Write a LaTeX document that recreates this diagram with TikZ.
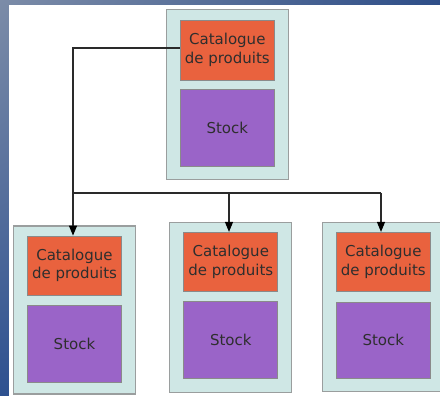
\documentclass[tikz,border=0pt]{standalone}
\usepackage{fontspec}
\setmainfont{DejaVu Sans}
\usetikzlibrary{arrows.meta,shadings}

\definecolor{bgtl}{HTML}{7C8CA8}
\definecolor{bgtr}{HTML}{2E4E88}
\definecolor{bgbl}{HTML}{2E5190}
\definecolor{bgbr}{HTML}{2A4A86}
\definecolor{shellfill}{HTML}{CFE7E5}
\definecolor{shelldraw}{HTML}{9A9E9E}
\definecolor{catfill}{HTML}{E9623E}
\definecolor{stockfill}{HTML}{9A64C8}
\definecolor{innerdraw}{HTML}{8A8A8A}
\definecolor{inktext}{HTML}{2E2E2E}
\definecolor{wire}{HTML}{2A2A2A}

\tikzset{
  shell/.style={draw=shelldraw, line width=1.2pt, fill=shellfill,
    minimum width=122pt, minimum height=170pt, inner sep=0pt},
  catbox/.style={draw=innerdraw, line width=0.8pt, fill=catfill,
    minimum width=94pt, minimum height=60pt, inner sep=0pt,
    align=center, text=inktext,
    font=\fontsize{15pt}{18.3pt}\selectfont},
  stockbox/.style={draw=innerdraw, line width=0.8pt, fill=stockfill,
    minimum width=94pt, minimum height=77pt, inner sep=0pt,
    text=inktext, font=\fontsize{15pt}{18pt}\selectfont},
  feed/.style={draw=wire, line width=1.1pt},
  drop/.style={feed, -{Triangle[length=10pt,width=8pt,fill=black,color=black]}},
}

\begin{document}
\begin{tikzpicture}[x=1pt,y=-1pt]
  \useasboundingbox (0,0) rectangle (440,396);
  \clip (0,0) rectangle (440,396);

  % slide background with its blue frame
  \shade[upper left=bgtl, upper right=bgtr, lower left=bgbl, lower right=bgbr]
    (0,0) rectangle (440,396);
  \fill[white] (9,5) rectangle (440,396);

  % central store
  \node[shell] (s0) at (227.5,94.6) {};
  \node[catbox] (c0) at (227.3,50) {Catalogue\\de produits};
  \node[stockbox] (k0) at (227.3,127.5) {Stock};

  % left shop
  \node[shell, minimum height=168pt] (s1) at (74.7,310) {};
  \node[catbox, minimum height=59pt] (c1) at (74.5,265.5) {Catalogue\\de produits};
  \node[stockbox] (k1) at (74.5,343.8) {Stock};

  % middle shop
  \node[shell] (s2) at (230.2,307.3) {};
  \node[catbox, minimum height=59.4pt] (c2) at (230.8,262) {Catalogue\\de produits};
  \node[stockbox] (k2) at (230.8,340.2) {Stock};

  % right shop, running past the right edge
  \node[shell, minimum width=132pt, minimum height=169.4pt] (s3) at (388.3,307) {};
  \node[catbox, minimum height=59.4pt] (c3) at (383.3,262) {Catalogue\\de produits};
  \node[stockbox, minimum height=76.3pt] (k3) at (383.3,340.2) {Stock};

  % distribution of the catalogue
  \coordinate (bend) at (73,48);
  \coordinate (trunk) at (73,193);
  \coordinate (split) at (229,193);
  \coordinate (branch) at (381,193);
  \draw[drop] ([yshift=2pt]c0.west) -- (bend) -- ([xshift=-1.5pt]c1.north);
  \draw[feed] (trunk) -- (branch);
  \draw[drop] (split) -- ([xshift=-1.8pt]c2.north);
  \draw[drop] (branch) -- ([xshift=-2.3pt]c3.north);
\end{tikzpicture}
\end{document}
